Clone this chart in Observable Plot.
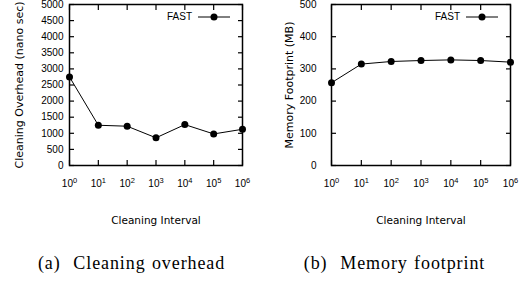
<!DOCTYPE html>
<html>
<head>
<meta charset="utf-8">
<script src="https://cdn.jsdelivr.net/npm/d3@7"></script>
<script src="https://cdn.jsdelivr.net/npm/@observablehq/plot@0.6"></script>
<style>
  html, body { margin: 0; padding: 0; background: #fff; }
  #wrap { position: relative; width: 526px; height: 281px; display: flex; }
  .col { position: relative; width: 263px; height: 281px; }
  .col svg { display: block; }
  .legend { position: absolute; font: 10px "Liberation Sans", Arial, sans-serif; display: flex; align-items: center; }
  .caption { position: absolute; top: 253px; left: 0; width: 263px; text-align: center;
    font-family: "Liberation Serif", "Times New Roman", serif; font-size: 18px; line-height: 20px;
    letter-spacing: 0.9px; word-spacing: 1px; color: #000; white-space: pre; }
</style>
</head>
<body>
<div id="wrap"></div>
<script>
// ---- data ----
const intervals = [1, 10, 100, 1000, 10000, 100000, 1000000];
const xTickValues = [1, 10, 100, 1000, 10000, 100000, 1000000];
const overhead = [2750, 1250, 1220, 860, 1270, 980, 1125];
const memory = [257, 315, 323, 326, 328, 326, 321];
const overheadTicks = [0, 500, 1000, 1500, 2000, 2500, 3000, 3500, 4000, 4500, 5000];
const memoryTicks = [0, 100, 200, 300, 400, 500];
const seriesName = "FAST";
const xTitle = "Cleaning Interval";
const yTitles = ["Cleaning Overhead (nano sec)", "Memory Footprint (MB)"];
const captions = ["(a)  Cleaning overhead", "(b)  Memory footprint"];

const fmtPow = d => "10^" + Math.round(Math.log10(d));

function chart(values, yTicks, yTitle, opts) {
  const data = intervals.map((x, i) => ({x, y: values[i]}));
  const svg = Plot.plot({
    width: 263,
    height: 240,
    marginLeft: opts.ml,
    marginRight: opts.mr,
    marginTop: 4,
    marginBottom: 75,
    style: {fontFamily: "'Liberation Sans', Arial, sans-serif", fontSize: "10px", color: "#000", background: "#fff"},
    x: {type: "log", domain: [1, 1e6]},
    y: {domain: [0, yTicks[yTicks.length - 1]]},
    marks: [
      // tick labels
      Plot.axisX({ticks: xTickValues, tickSize: 0, tickPadding: 14, tickFormat: fmtPow, label: null}),
      Plot.axisY({ticks: yTicks, tickSize: 0, tickPadding: opts.ypad, tickFormat: d => String(d), label: null}),
      // inward ticks on all sides
      Plot.axisX({ticks: xTickValues, tickSize: -5, text: null, label: null, strokeWidth: 1.2}),
      Plot.axisX({anchor: "top", ticks: xTickValues, tickSize: -5, text: null, label: null, strokeWidth: 1.2}),
      Plot.axisY({ticks: yTicks, tickSize: -5, text: null, label: null, strokeWidth: 1.2}),
      Plot.axisY({anchor: "right", ticks: yTicks, tickSize: -5, text: null, label: null, strokeWidth: 1.2}),
      // titles
      Plot.axisX({ticks: [], tickSize: 0, text: null, label: xTitle, labelAnchor: "center", labelArrow: "none",
        labelOffset: 58, fontFamily: "'DejaVu Sans', sans-serif", fontSize: 10.5}),
      Plot.axisY({ticks: [], tickSize: 0, text: null, label: yTitle, labelAnchor: "center", labelArrow: "none",
        labelOffset: opts.lo, fontFamily: "'DejaVu Sans', sans-serif", fontSize: 11}),
      Plot.frame({stroke: "#000", strokeWidth: 1.5}),
      Plot.line(data, {x: "x", y: "y", stroke: "#000", strokeWidth: 1}),
      Plot.dot(data, {x: "x", y: "y", r: 3.5, fill: "#000"})
    ]
  });
  // render "10^n" tick labels with a real superscript
  svg.querySelectorAll("text").forEach(t => {
    const m = /^10\^(-?\d+)$/.exec(t.textContent);
    if (m) {
      t.textContent = "10";
      const s = document.createElementNS("http://www.w3.org/2000/svg", "tspan");
      s.setAttribute("dy", "-4");
      s.setAttribute("font-size", "7.5");
      s.textContent = m[1];
      t.appendChild(s);
    }
  });
  return svg;
}

function legendEl(right) {
  const d = document.createElement("div");
  d.className = "legend";
  d.style.top = "11px";
  d.style.right = right + "px";
  d.innerHTML = `<span>${seriesName}</span><svg width="34" height="10" style="margin-left:5px"><line x1="1" y1="5" x2="33" y2="5" stroke="#000" stroke-width="1"/><circle cx="17" cy="5" r="3.5" fill="#000"/></svg>`;
  return d;
}

const wrap = document.getElementById("wrap");
const specs = [
  {values: overhead, ticks: overheadTicks, opts: {ml: 69, mr: 21, ypad: 6, lo: 54}, legendRight: 32},
  {values: memory, ticks: memoryTicks, opts: {ml: 68, mr: 16, ypad: 15, lo: 46}, legendRight: 27}
];
specs.forEach((s, i) => {
  const col = document.createElement("div");
  col.className = "col";
  col.appendChild(chart(s.values, s.ticks, yTitles[i], s.opts));
  col.appendChild(legendEl(s.legendRight));
  const cap = document.createElement("div");
  cap.className = "caption";
  cap.textContent = captions[i];
  col.appendChild(cap);
  wrap.appendChild(col);
});
</script>
</body>
</html>
